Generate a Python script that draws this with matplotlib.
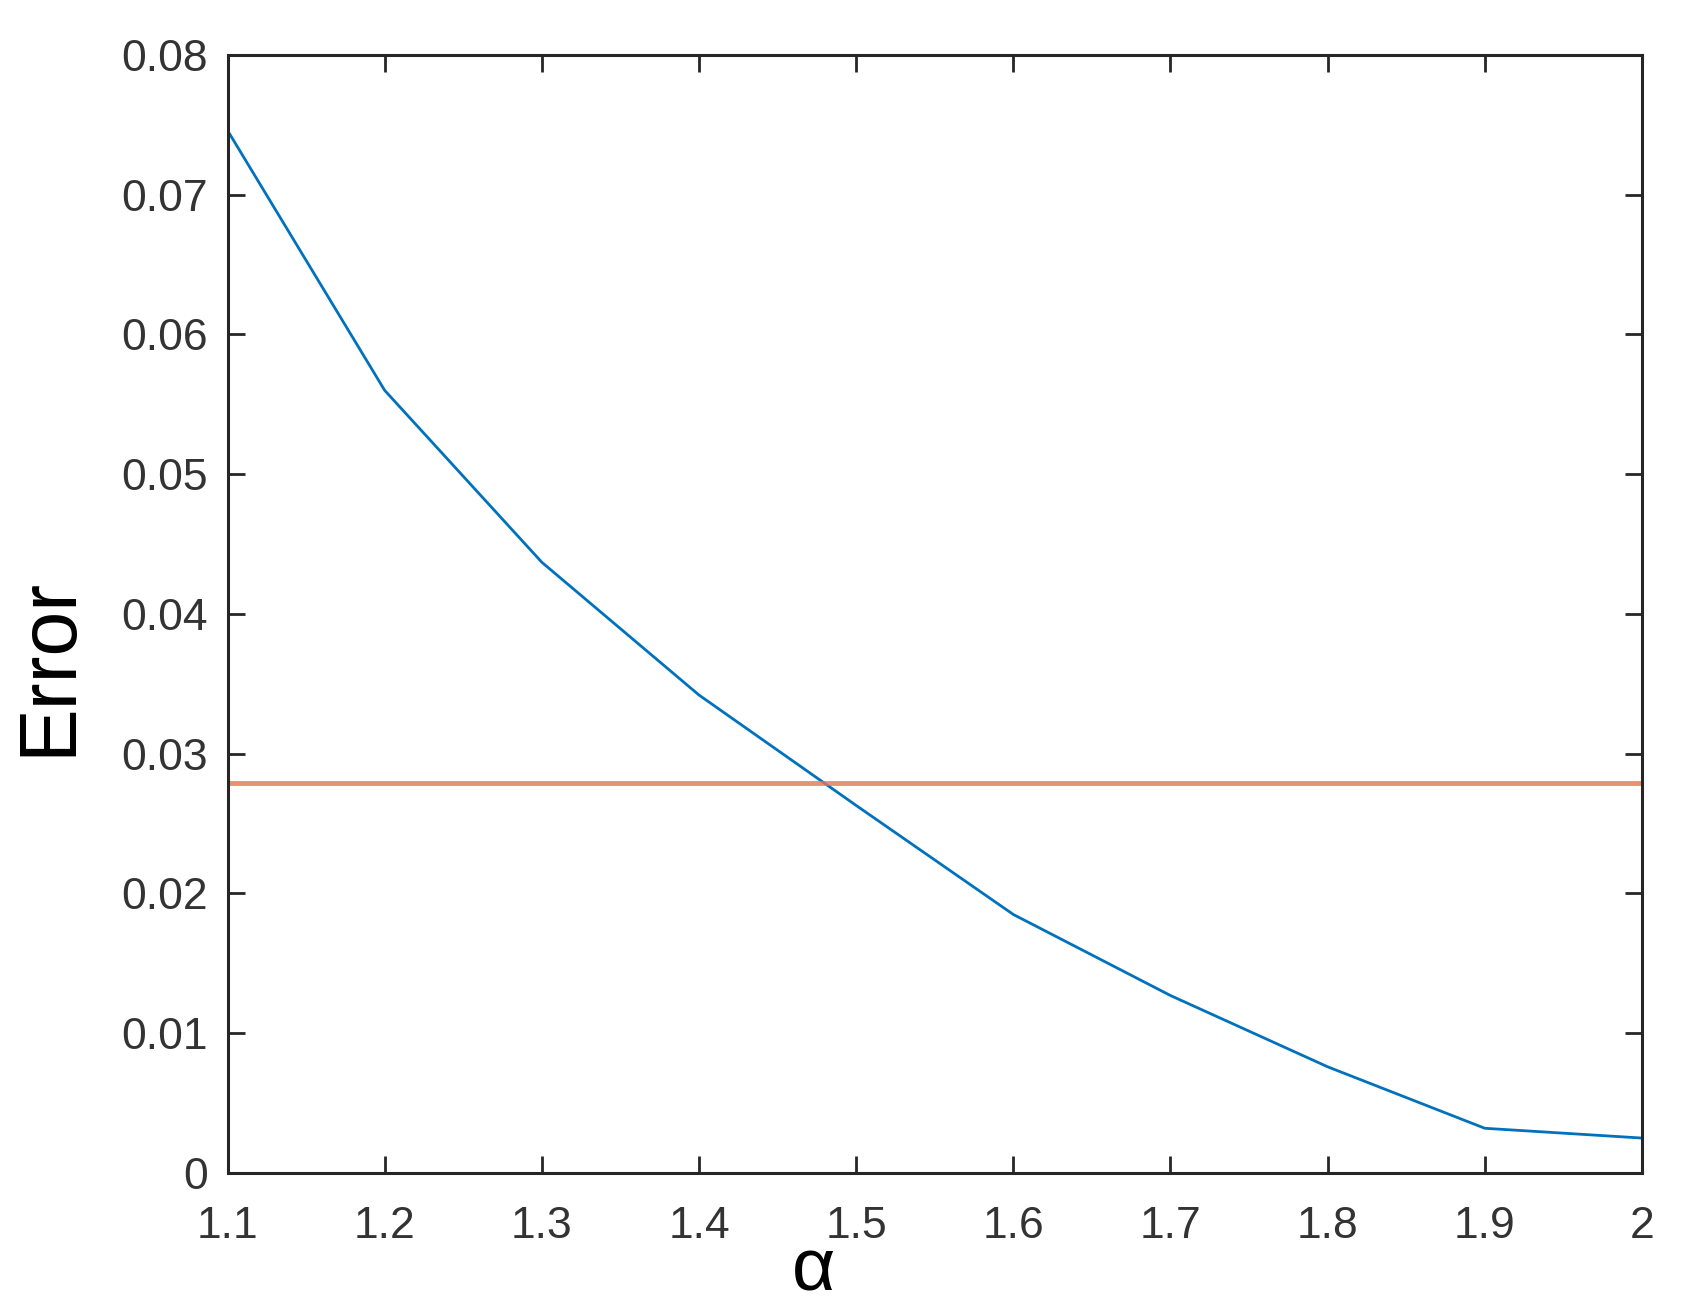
import matplotlib
matplotlib.use("Agg")
import matplotlib.pyplot as plt
from matplotlib.ticker import FuncFormatter

# data
alpha = [1.1, 1.2, 1.3, 1.4, 1.5, 1.6, 1.7, 1.8, 1.9, 2.0]
error = [0.0746, 0.0560, 0.0437, 0.0342, 0.0263, 0.0185, 0.0127, 0.0076, 0.0032, 0.0025]
threshold = 0.0279
xticks = [1.1, 1.2, 1.3, 1.4, 1.5, 1.6, 1.7, 1.8, 1.9, 2.0]
yticks = [0, 0.01, 0.02, 0.03, 0.04, 0.05, 0.06, 0.07, 0.08]

plt.rcParams["font.family"] = ["Liberation Sans", "DejaVu Sans"]

fig = plt.figure(figsize=(16.83, 13.09), dpi=100)
ax = fig.add_axes([0.1352, 0.1039, 0.9756 - 0.1352, 0.958 - 0.1039])

ax.plot(alpha, error, color="#0072BD", lw=2.0)
ax.axhline(threshold, color="#E2784F", lw=3.5, alpha=0.8)

ax.set_xlim(1.1, 2.0)
ax.set_ylim(0, 0.08)
ax.set_xticks(xticks)
ax.set_yticks(yticks)
ax.xaxis.set_major_formatter(FuncFormatter(lambda v, p: f"{v:g}"))
ax.yaxis.set_major_formatter(FuncFormatter(lambda v, p: f"{v:g}"))

ax.tick_params(direction="in", length=12, width=2, colors="#262626",
               labelcolor="#333333", labelsize=32, top=True, right=True)
ax.tick_params(axis="x", pad=24)
ax.tick_params(axis="y", pad=14)
for s in ax.spines.values():
    s.set_linewidth(2.2)
    s.set_color("#262626")

ax.set_xlabel("α", fontsize=54, color="black", labelpad=0)
ax.xaxis.set_label_coords(0.414, -0.057)
ax.set_ylabel("Error", fontsize=58, color="black")
ax.yaxis.set_label_coords(-0.099, 0.453)

fig.savefig("out.png", dpi=100, facecolor="white")
